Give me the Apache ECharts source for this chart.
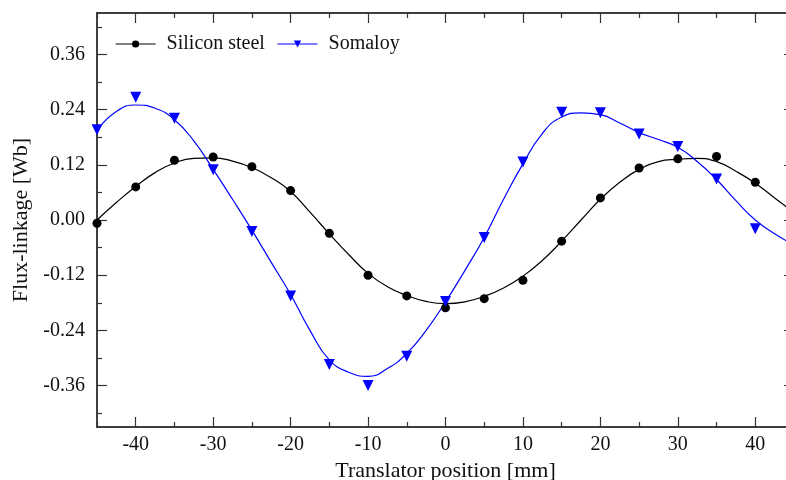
<!DOCTYPE html>
<html>
<head>
<meta charset="utf-8">
<script src="https://cdn.jsdelivr.net/npm/echarts@6/dist/echarts.min.js"></script>
<style>
  html, body { margin: 0; padding: 0; background: #fff; }
  #chart { width: 786px; height: 480px; }
</style>
</head>
<body>
<div id="chart"></div>
<script>
// measured points
const positions = [-45, -40, -35, -30, -25, -20, -15, -10, -5, 0, 5, 10, 15, 20, 25, 30, 35, 40];
const siliconSteel = [-0.007, 0.072, 0.130, 0.137, 0.116, 0.064, -0.029, -0.120, -0.165, -0.191, -0.171, -0.131, -0.046, 0.048, 0.113, 0.133, 0.138, 0.082];
const somaloy = [0.196, 0.267, 0.221, 0.109, -0.025, -0.165, -0.314, -0.360, -0.296, -0.177, -0.038, 0.126, 0.234, 0.233, 0.187, 0.160, 0.089, -0.019];

// fitted curves
const fitX = [-45, -42.5, -40, -37.5, -35, -32.5, -30, -27.5, -25, -22.5, -20, -17.5, -15, -12.5, -10, -7.5, -5, -2.5, 0, 2.5, 5, 7.5, 10, 12.5, 15, 17.5, 20, 22.5, 25, 27.5, 30, 32.5, 35, 37.5, 40, 42.5, 45];
const siliconFit = [0.000, 0.038, 0.073, 0.103, 0.124, 0.134, 0.135, 0.128, 0.114, 0.092, 0.062, 0.017, -0.030, -0.075, -0.116, -0.145, -0.164, -0.177, -0.182, -0.178, -0.166, -0.148, -0.122, -0.088, -0.046, 0.000, 0.045, 0.082, 0.110, 0.127, 0.132, 0.134, 0.127, 0.106, 0.080, 0.048, 0.016];
const somaloyFit = [0.195, 0.236, 0.250, 0.243, 0.218, 0.172, 0.110, 0.045, -0.022, -0.092, -0.162, -0.240, -0.304, -0.331, -0.340, -0.323, -0.290, -0.240, -0.178, -0.110, -0.038, 0.045, 0.122, 0.188, 0.224, 0.233, 0.229, 0.211, 0.190, 0.175, 0.158, 0.127, 0.088, 0.042, 0.000, -0.030, -0.054];

const xMajor = [-40, -30, -20, -10, 0, 10, 20, 30, 40];
const xMinor = [-45, -35, -25, -15, -5, 5, 15, 25, 35, 45];
const yMajor = [-0.36, -0.24, -0.12, 0, 0.12, 0.24, 0.36];
const yMinor = [-0.42, -0.30, -0.18, -0.06, 0.06, 0.18, 0.30, 0.42];

const font = 'Liberation Serif';
const axisLine = { show: true, onZero: false, lineStyle: { color: '#333', width: 1.5 } };

function xAxisOf(pos, ticks, len, labels) {
  return {
    type: 'value', min: -45, max: 45, position: pos,
    axisLine: axisLine,
    axisTick: { show: true, inside: true, length: len, customValues: ticks, lineStyle: { color: '#333', width: 1.2 } },
    axisLabel: {
      show: labels, customValues: ticks, margin: 8,
      fontFamily: font, fontSize: 20, color: '#111'
    },
    splitLine: { show: false },
    name: labels ? 'Translator position [mm]' : '',
    nameLocation: 'middle', nameGap: 29,
    nameTextStyle: { fontFamily: font, fontSize: 22, color: '#111' }
  };
}

function yAxisOf(pos, ticks, len, labels) {
  return {
    type: 'value', min: -0.45, max: 0.45, position: pos,
    axisLine: axisLine,
    axisTick: { show: true, inside: true, length: len, customValues: ticks, lineStyle: { color: '#333', width: 1.2 } },
    axisLabel: {
      show: labels, customValues: ticks, margin: 12,
      fontFamily: font, fontSize: 20, color: '#111',
      formatter: v => v.toFixed(2)
    },
    splitLine: { show: false },
    name: labels ? 'Flux-linkage [Wb]' : '',
    nameLocation: 'middle', nameGap: 65,
    nameTextStyle: { fontFamily: font, fontSize: 22, color: '#111' }
  };
}

const chart = echarts.init(document.getElementById('chart'));

chart.setOption({
  animation: false,
  grid: { left: 97, right: -8, top: 13, bottom: 53, outerBoundsMode: 'none', containLabel: false },
  legend: {
    left: 110, top: 29,
    itemWidth: 40, itemHeight: 9, itemGap: 12,
    textStyle: { fontFamily: font, fontSize: 20, color: '#111', padding: [0, 0, 0, 6] },
    data: [
      { name: 'Silicon steel', lineStyle: { width: 1.2, color: '#000', opacity: 1 } },
      { name: 'Somaloy', lineStyle: { width: 1.2, color: '#0000ff', opacity: 1 } }
    ]
  },
  xAxis: [
    xAxisOf('bottom', xMajor, 10, true),
    xAxisOf('bottom', xMinor, 5, false),
    xAxisOf('top', xMajor, 10, false),
    xAxisOf('top', xMinor, 5, false)
  ],
  yAxis: [
    yAxisOf('left', yMajor, 10, true),
    yAxisOf('left', yMinor, 5, false),
    yAxisOf('right', yMajor, 10, false),
    yAxisOf('right', yMinor, 5, false)
  ],
  series: [
    {
      type: 'line', smooth: true, symbol: 'none', silent: true,
      data: fitX.map((x, i) => [x, siliconFit[i]]),
      lineStyle: { color: '#000', width: 1.2 }
    },
    {
      type: 'line', smooth: true, symbol: 'none', silent: true,
      data: fitX.map((x, i) => [x, somaloyFit[i]]),
      lineStyle: { color: '#0000ff', width: 1.2 }
    },
    {
      name: 'Silicon steel', type: 'line',
      symbol: 'circle', symbolSize: 9,
      data: positions.map((x, i) => [x, siliconSteel[i]]),
      itemStyle: { color: '#000' },
      lineStyle: { opacity: 0 }
    },
    {
      name: 'Somaloy', type: 'line',
      symbol: 'triangle', symbolRotate: 180, symbolSize: 11,
      data: positions.map((x, i) => [x, somaloy[i]]),
      itemStyle: { color: '#0000ff' },
      lineStyle: { opacity: 0 }
    }
  ]
});
</script>
</body>
</html>
